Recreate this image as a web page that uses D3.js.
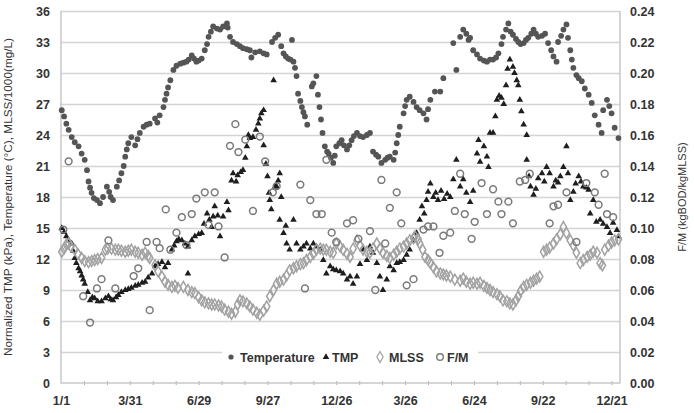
<!DOCTYPE html>
<html>
<head>
<meta charset="utf-8">
<script src="https://cdn.jsdelivr.net/npm/d3@7"></script>
<style>
  body { margin: 0; background: #fff; }
  #chart { width: 694px; height: 413px; }
  text { font-family: Arial, "Liberation Sans", sans-serif; }
</style>
</head>
<body>
<div id="chart"></div>
<script>
// Days counted from 1/1 of the first year (a leap year, so 1/1 + 90 = 3/31)
const startDate = "2008-01-01";
const endDate = "2010-01-01";
const tickDates = ["2008-01-01", "2008-03-31", "2008-06-29", "2008-09-27", "2008-12-26",
  "2009-03-26", "2009-06-24", "2009-09-22", "2009-12-21"];
const leftTicks = [0, 3, 6, 9, 12, 15, 18, 21, 24, 27, 30, 33, 36];
const rightTicks = [0, 0.02, 0.04, 0.06, 0.08, 0.10, 0.12, 0.14, 0.16, 0.18, 0.20, 0.22, 0.24];
const seriesNames = ["Temperature", "TMP", "MLSS", "F/M"];

const tempDays = [1, 4, 7, 10, 14, 18, 23, 27, 31, 34, 36, 38, 40, 43, 47, 51, 55, 60, 63, 65, 68, 73, 76, 79, 82, 84, 86, 88, 92, 97, 100, 103, 108, 112, 116, 123, 126, 129, 134, 136, 138, 140, 143, 147, 151, 156, 160, 164, 167, 171, 174, 177, 180, 184, 188, 191, 193, 196, 199, 204, 208, 212, 217, 218, 221, 225, 230, 234, 238, 243, 247, 249, 254, 260, 265, 269, 276, 280, 284, 288, 291, 294, 297, 300, 302, 304, 306, 308, 310, 313, 315, 317, 319, 322, 328, 330, 334, 336, 338, 340, 342, 345, 348, 350, 353, 356, 358, 360, 364, 367, 370, 374, 377, 380, 383, 387, 391, 395, 400, 404, 408, 412, 415, 419, 424, 427, 430, 435, 437, 439, 441, 443, 448, 450, 452, 456, 461, 465, 469, 474, 478, 480, 483, 489, 496, 500, 513, 517, 522, 526, 530, 533, 535, 539, 544, 548, 553, 557, 561, 565, 569, 572, 576, 578, 582, 585, 588, 591, 595, 598, 601, 605, 608, 611, 615, 618, 621, 624, 629, 633, 637, 641, 644, 648, 650, 654, 657, 661, 663, 666, 668, 670, 674, 677, 681, 685, 690, 694, 698, 703, 707, 709, 714, 717, 720, 724, 729];
const tempValues = [26.4, 25.8, 25.1, 24.5, 23.8, 23.3, 22.9, 22.2, 21.6, 20.6, 19.5, 18.9, 18.4, 17.9, 17.7, 17.4, 18.0, 19.0, 18.5, 18.0, 17.7, 19.0, 19.6, 20.3, 21.0, 21.9, 22.6, 23.2, 23.8, 23.0, 23.6, 24.2, 24.8, 25.0, 25.1, 25.6, 25.2, 25.9, 26.7, 27.4, 28.0, 28.6, 29.3, 30.3, 30.7, 30.9, 31.0, 31.1, 31.3, 31.7, 31.4, 31.1, 31.2, 31.4, 32.2, 32.8, 33.5, 34.0, 34.5, 34.3, 34.2, 34.5, 34.8, 34.4, 33.5, 33.0, 32.8, 32.6, 32.4, 32.3, 32.2, 31.5, 32.0, 32.1, 31.9, 31.8, 33.0, 33.4, 33.7, 32.6, 31.9, 31.6, 31.4, 31.3, 33.2, 31.1, 30.5, 29.7, 28.0, 27.3, 26.7, 26.2, 25.8, 25.0, 28.7, 29.0, 29.7, 27.9, 26.7, 25.5, 24.2, 22.9, 22.4, 22.2, 21.8, 21.3, 22.0, 22.9, 23.2, 23.5, 23.0, 22.6, 23.0, 23.5, 23.9, 24.2, 23.9, 23.8, 24.0, 24.2, 22.4, 22.1, 21.9, 21.3, 21.6, 21.8, 21.9, 21.6, 22.3, 23.2, 24.0, 24.8, 26.1, 26.8, 27.4, 27.7, 27.2, 26.7, 26.4, 26.1, 25.5, 26.5, 27.4, 28.2, 28.2, 29.5, 32.9, 30.3, 33.5, 34.2, 33.8, 33.2, 33.4, 32.2, 31.8, 31.4, 31.2, 31.1, 31.3, 31.3, 31.5, 31.9, 32.8, 33.5, 34.2, 34.8, 34.0, 33.7, 33.3, 33.0, 32.8, 32.9, 33.2, 33.4, 33.8, 34.2, 33.8, 33.5, 33.6, 33.8, 32.9, 32.2, 31.6, 31.1, 33.0, 33.6, 34.2, 34.7, 33.4, 32.2, 31.3, 30.5, 29.8, 29.5, 29.2, 28.5, 27.9, 27.1, 25.9, 25.0, 24.2, 26.4, 27.4, 26.8, 26.1, 24.7, 23.7];

const tmpDays = [1, 4, 7, 10, 14, 16, 18, 20, 23, 25, 27, 29, 31, 35, 38, 41, 44, 48, 53, 58, 62, 65, 68, 72, 75, 79, 84, 88, 92, 97, 101, 106, 110, 114, 119, 123, 127, 132, 136, 140, 145, 148, 151, 154, 158, 162, 166, 166, 171, 175, 180, 184, 187, 191, 194, 197, 199, 201, 205, 208, 212, 217, 219, 221, 223, 225, 229, 231, 235, 238, 241, 243, 245, 247, 251, 255, 258, 260, 262, 265, 265, 268, 270, 272, 273, 275, 278, 280, 282, 284, 286, 286, 288, 291, 294, 295, 299, 304, 308, 313, 317, 321, 326, 330, 334, 339, 343, 347, 352, 356, 360, 365, 369, 374, 378, 382, 387, 391, 395, 400, 404, 408, 413, 417, 421, 426, 430, 435, 439, 443, 448, 452, 456, 461, 465, 469, 472, 475, 478, 480, 483, 487, 490, 493, 497, 501, 505, 509, 513, 517, 522, 526, 530, 535, 539, 544, 546, 548, 553, 557, 559, 561, 565, 568, 570, 573, 576, 579, 582, 584, 587, 591, 593, 596, 598, 600, 602, 605, 609, 609, 612, 614, 618, 621, 624, 629, 632, 635, 639, 644, 647, 650, 653, 657, 661, 663, 666, 670, 673, 677, 680, 683, 687, 690, 692, 696, 700, 705, 709, 714, 718, 722, 727, 729];
const tmpValues = [15.0, 14.6, 14.2, 13.8, 13.5, 12.8, 12.1, 11.6, 11.1, 10.8, 10.4, 10.0, 9.6, 8.8, 8.0, 8.3, 8.2, 7.9, 7.9, 8.2, 8.4, 8.1, 8.0, 8.3, 8.5, 8.8, 9.0, 9.1, 9.2, 9.4, 9.5, 9.7, 9.8, 10.2, 10.6, 11.3, 11.5, 11.7, 11.2, 11.6, 12.9, 13.3, 13.7, 13.9, 13.8, 13.5, 13.2, 10.6, 13.8, 14.2, 14.4, 14.5, 15.4, 16.4, 15.8, 15.1, 16.1, 17.1, 16.2, 14.2, 16.1, 17.5, 16.7, 2.5, 19.6, 20.3, 19.5, 20.1, 20.4, 20.6, 21.8, 22.9, 24.0, 23.7, 23.8, 24.5, 25.1, 25.6, 26.1, 26.4, 23.0, 21.2, 20.0, 18.4, 17.7, 16.8, 29.3, 19.0, 19.0, 19.6, 20.3, 15.8, 18.0, 14.5, 15.2, 13.5, 12.9, 15.8, 13.5, 12.9, 13.2, 13.5, 13.0, 13.5, 13.2, 12.9, 11.9, 10.6, 11.3, 11.0, 10.9, 10.8, 10.6, 10.0, 10.3, 9.6, 10.3, 11.5, 12.9, 11.9, 13.2, 12.6, 11.6, 10.3, 9.0, 10.0, 11.3, 10.9, 11.6, 11.7, 11.9, 12.4, 12.9, 13.8, 14.5, 15.8, 17.1, 16.4, 17.7, 18.5, 19.3, 18.0, 18.4, 17.7, 18.6, 17.8, 18.3, 18.0, 19.7, 21.6, 19.0, 19.7, 18.4, 17.5, 18.6, 22.2, 23.5, 21.4, 22.9, 21.9, 20.9, 24.2, 24.2, 25.8, 27.4, 27.8, 27.6, 27.0, 28.8, 30.4, 31.3, 30.6, 30.0, 29.3, 28.8, 27.4, 26.3, 25.0, 24.0, 21.6, 20.0, 19.0, 18.2, 18.8, 19.8, 20.3, 19.5, 20.9, 20.3, 19.0, 19.6, 19.4, 20.0, 20.9, 22.9, 20.3, 17.7, 18.5, 19.3, 20.0, 19.5, 19.0, 18.9, 18.7, 16.4, 17.7, 15.6, 15.8, 15.4, 15.1, 14.5, 15.5, 14.8, 14.2];

const mlssDays = [1, 4, 7, 10, 13, 18, 22, 27, 31, 36, 40, 44, 48, 53, 58, 61, 66, 71, 75, 79, 84, 88, 92, 97, 101, 106, 110, 114, 116, 123, 127, 132, 136, 140, 145, 149, 153, 160, 166, 171, 175, 180, 184, 188, 193, 197, 201, 206, 210, 214, 219, 223, 228, 231, 234, 238, 243, 247, 251, 256, 260, 265, 269, 273, 278, 282, 286, 291, 295, 299, 304, 308, 313, 317, 321, 326, 330, 334, 339, 343, 347, 352, 356, 360, 365, 369, 374, 378, 382, 387, 391, 395, 400, 404, 408, 413, 417, 421, 426, 430, 435, 439, 443, 448, 452, 456, 461, 463, 467, 469, 473, 476, 480, 483, 487, 491, 496, 500, 504, 509, 515, 522, 526, 530, 535, 539, 544, 548, 553, 557, 561, 565, 570, 574, 578, 583, 587, 591, 595, 598, 601, 605, 609, 614, 618, 622, 626, 631, 635, 639, 644, 648, 653, 657, 661, 666, 670, 674, 679, 683, 688, 692, 696, 701, 705, 708, 711, 716, 720, 724, 729];
const mlssValues = [12.7, 13.0, 13.4, 13.5, 13.2, 12.9, 12.5, 12.1, 11.8, 11.7, 11.8, 11.9, 12.0, 12.1, 12.9, 13.0, 13.0, 12.9, 12.9, 12.8, 12.7, 12.8, 12.9, 12.7, 12.6, 12.4, 12.6, 12.3, 12.1, 11.4, 10.8, 10.3, 9.8, 9.5, 9.3, 9.4, 9.2, 9.3, 9.0, 8.8, 8.7, 8.3, 8.0, 7.8, 7.7, 7.6, 7.6, 7.5, 7.4, 7.1, 6.9, 6.7, 6.9, 7.6, 8.0, 7.9, 7.7, 7.4, 7.1, 6.8, 6.6, 7.0, 7.4, 8.4, 9.0, 9.6, 9.8, 10.0, 10.4, 10.9, 11.1, 11.3, 11.5, 11.6, 11.9, 12.2, 12.5, 12.9, 13.0, 12.9, 12.9, 12.7, 12.6, 13.5, 13.2, 12.9, 12.5, 12.2, 13.0, 13.8, 13.3, 12.9, 12.7, 12.6, 13.0, 13.5, 13.0, 12.6, 12.3, 12.1, 12.4, 12.7, 13.0, 13.2, 13.5, 13.8, 14.0, 14.2, 13.9, 13.5, 12.9, 12.2, 11.9, 11.6, 11.2, 10.8, 10.6, 10.5, 10.4, 10.3, 10.0, 9.9, 10.1, 9.8, 9.6, 9.7, 9.6, 9.7, 9.4, 9.2, 9.0, 8.8, 8.6, 8.4, 8.0, 7.9, 7.7, 7.6, 8.0, 8.4, 8.9, 9.3, 9.5, 9.7, 9.9, 10.1, 10.3, 12.7, 12.9, 13.1, 13.5, 13.9, 14.4, 15.1, 14.5, 13.8, 13.3, 12.6, 11.6, 11.9, 12.2, 12.4, 12.7, 12.6, 11.6, 11.4, 12.9, 13.3, 13.6, 13.8, 13.9];

const fmDays = [3, 10, 29, 38, 47, 53, 62, 71, 95, 101, 112, 116, 125, 129, 137, 143, 151, 158, 164, 171, 177, 188, 193, 201, 206, 214, 221, 228, 232, 241, 251, 260, 267, 277, 282, 313, 319, 326, 334, 341, 347, 354, 360, 374, 382, 389, 404, 411, 419, 424, 430, 439, 445, 452, 461, 474, 480, 487, 495, 500, 509, 515, 522, 528, 537, 541, 550, 557, 565, 572, 576, 585, 591, 600, 607, 613, 639, 644, 650, 661, 674, 687, 698, 703, 711, 714, 722];
const fmValues = [0.099, 0.143, 0.056, 0.039, 0.061, 0.067, 0.092, 0.061, 0.069, 0.074, 0.091, 0.047, 0.091, 0.087, 0.112, 0.086, 0.097, 0.107, 0.089, 0.109, 0.119, 0.123, 0.102, 0.123, 0.101, 0.081, 0.153, 0.167, 0.149, 0.157, 0.111, 0.159, 0.143, 0.123, 0.127, 0.128, 0.061, 0.118, 0.109, 0.109, 0.144, 0.097, 0.091, 0.103, 0.105, 0.093, 0.098, 0.060, 0.131, 0.090, 0.113, 0.123, 0.103, 0.063, 0.067, 0.099, 0.101, 0.101, 0.084, 0.095, 0.097, 0.111, 0.135, 0.109, 0.093, 0.104, 0.129, 0.109, 0.125, 0.117, 0.109, 0.117, 0.103, 0.130, 0.131, 0.135, 0.103, 0.114, 0.115, 0.123, 0.091, 0.129, 0.123, 0.115, 0.135, 0.109, 0.107];

function renderChart(containerId) {
  const width = 694, height = 413;
  const margin = { top: 11, right: 74, bottom: 30, left: 61 };
  const innerWidth = width - margin.left - margin.right;
  const innerHeight = height - margin.top - margin.bottom;

  const container = d3.select(`#${containerId}`);
  container.selectAll("*").remove();
  const svg = container.append("svg").attr("width", width).attr("height", height);
  const g = svg.append("g").attr("transform", `translate(${margin.left},${margin.top})`);

  const parse = d3.timeParse("%Y-%m-%d");
  const t0 = parse(startDate);
  const toDate = d => d3.timeDay.offset(t0, d);

  const x = d3.scaleTime().domain([t0, parse(endDate)]).range([0, innerWidth]);
  const y = d3.scaleLinear().domain([0, 36]).range([innerHeight, 0]);
  const y2 = d3.scaleLinear().domain([0, 0.24]).range([innerHeight, 0]);

  const axisColor = "#c8c8c8";
  const labelColor = "#333";

  // Grid lines
  g.append("g")
    .call(d3.axisLeft(y).tickValues(leftTicks.slice(1)).tickSize(-innerWidth).tickFormat(""))
    .call(a => a.select(".domain").remove())
    .selectAll("line").attr("stroke", "#d4d4d4").attr("stroke-width", 1.5);

  // Left axis labels
  g.append("g")
    .call(d3.axisLeft(y).tickValues(leftTicks).tickSize(0).tickPadding(11))
    .call(a => a.select(".domain").remove())
    .selectAll("text").style("font-size", "12.5px").style("font-weight", "bold").attr("fill", labelColor);

  // Right axis labels
  g.append("g")
    .attr("transform", `translate(${innerWidth},0)`)
    .call(d3.axisRight(y2).tickValues(rightTicks).tickSize(0).tickPadding(10).tickFormat(d3.format(".2f")))
    .call(a => a.select(".domain").remove())
    .selectAll("text").style("font-size", "12.5px").style("font-weight", "bold").attr("fill", labelColor);

  // Minor ticks every 30 days on the bottom axis
  const minor = d3.range(30, 731, 30).map(toDate);
  g.append("g")
    .attr("transform", `translate(0,${innerHeight})`)
    .call(d3.axisBottom(x).tickValues(minor).tickSize(3).tickFormat(""))
    .call(a => a.select(".domain").remove())
    .selectAll("line").attr("stroke", "#aaa").attr("y1", -2).attr("y2", 2);

  // Bottom axis labels
  g.append("g")
    .attr("transform", `translate(0,${innerHeight})`)
    .call(d3.axisBottom(x).tickValues(tickDates.map(parse)).tickSize(0).tickPadding(13)
      .tickFormat(d3.timeFormat("%-m/%-d")))
    .call(a => a.select(".domain").remove())
    .selectAll("text").style("font-size", "12.5px").style("font-weight", "bold").attr("fill", labelColor);

  // Plot frame (left, right, bottom)
  g.append("path")
    .attr("d", `M0,0V${innerHeight}H${innerWidth}V0`)
    .attr("fill", "none").attr("stroke", axisColor).attr("stroke-width", 1.5);

  // Temperature
  g.append("g").selectAll("circle")
    .data(d3.zip(tempDays, tempValues))
    .join("circle")
    .attr("cx", d => x(toDate(d[0])))
    .attr("cy", d => y(d[1]))
    .attr("r", 2.9)
    .attr("fill", "#555");

  // TMP
  const tri = d3.symbol().type(d3.symbolTriangle).size(19);
  g.append("g").selectAll("path")
    .data(d3.zip(tmpDays, tmpValues))
    .join("path")
    .attr("transform", d => `translate(${x(toDate(d[0]))},${y(d[1])})`)
    .attr("d", tri)
    .attr("fill", "#1e1e1e");

  // MLSS
  const dia = d3.symbol().type(d3.symbolDiamond).size(34);
  g.append("g").selectAll("path")
    .data(d3.zip(mlssDays, mlssValues))
    .join("path")
    .attr("transform", d => `translate(${x(toDate(d[0]))},${y(d[1])})`)
    .attr("d", dia)
    .attr("fill", "none")
    .attr("stroke", "#a2a2a2")
    .attr("stroke-width", 1.5);

  // F/M on right axis
  g.append("g").selectAll("circle")
    .data(d3.zip(fmDays, fmValues))
    .join("circle")
    .attr("cx", d => x(toDate(d[0])))
    .attr("cy", d => y2(d[1]))
    .attr("r", 3.4)
    .attr("fill", "none")
    .attr("stroke", "#7a7a7a")
    .attr("stroke-width", 1.5);

  // Legend
  const legend = svg.append("g").attr("transform", "translate(222,347)");
  legend.append("rect").attr("width", 256).attr("height", 20).attr("fill", "#fff");
  const items = [
    { mx: 9, tx: 18 },
    { mx: 104, tx: 110 },
    { mx: 158, tx: 167 },
    { mx: 218, tx: 225 }
  ];
  const ly = 10;
  legend.append("circle").attr("cx", items[0].mx).attr("cy", ly).attr("r", 2.6).attr("fill", "#555");
  legend.append("path").attr("transform", `translate(${items[1].mx},${ly})`).attr("d", tri).attr("fill", "#1e1e1e");
  legend.append("path").attr("transform", `translate(${items[2].mx},${ly})`).attr("d", dia)
    .attr("fill", "none").attr("stroke", "#a8a8a8").attr("stroke-width", 1.3);
  legend.append("circle").attr("cx", items[3].mx).attr("cy", ly).attr("r", 3.3)
    .attr("fill", "none").attr("stroke", "#7a7a7a").attr("stroke-width", 1.4);
  legend.selectAll("text.lab")
    .data(seriesNames)
    .join("text")
    .attr("class", "lab")
    .attr("x", (d, i) => items[i].tx)
    .attr("y", ly + 4.5)
    .style("font-size", "12.5px")
    .style("font-weight", "bold")
    .attr("fill", labelColor)
    .text(d => d);

  // Axis titles
  svg.append("text")
    .attr("transform", `translate(12,${margin.top + innerHeight / 2}) rotate(-90)`)
    .attr("text-anchor", "middle")
    .style("font-size", "11.8px")
    .attr("fill", labelColor)
    .text("Normalized TMP (kPa), Temperature (°C), MLSS/1000(mg/L)");

  svg.append("text")
    .attr("transform", `translate(686,${margin.top + innerHeight / 2}) rotate(-90)`)
    .attr("text-anchor", "middle")
    .style("font-size", "11px")
    .attr("fill", labelColor)
    .text("F/M (kgBOD/kgMLSS)");
}

document.addEventListener("DOMContentLoaded", () => {
  renderChart("chart");
});
</script>
</body>
</html>
